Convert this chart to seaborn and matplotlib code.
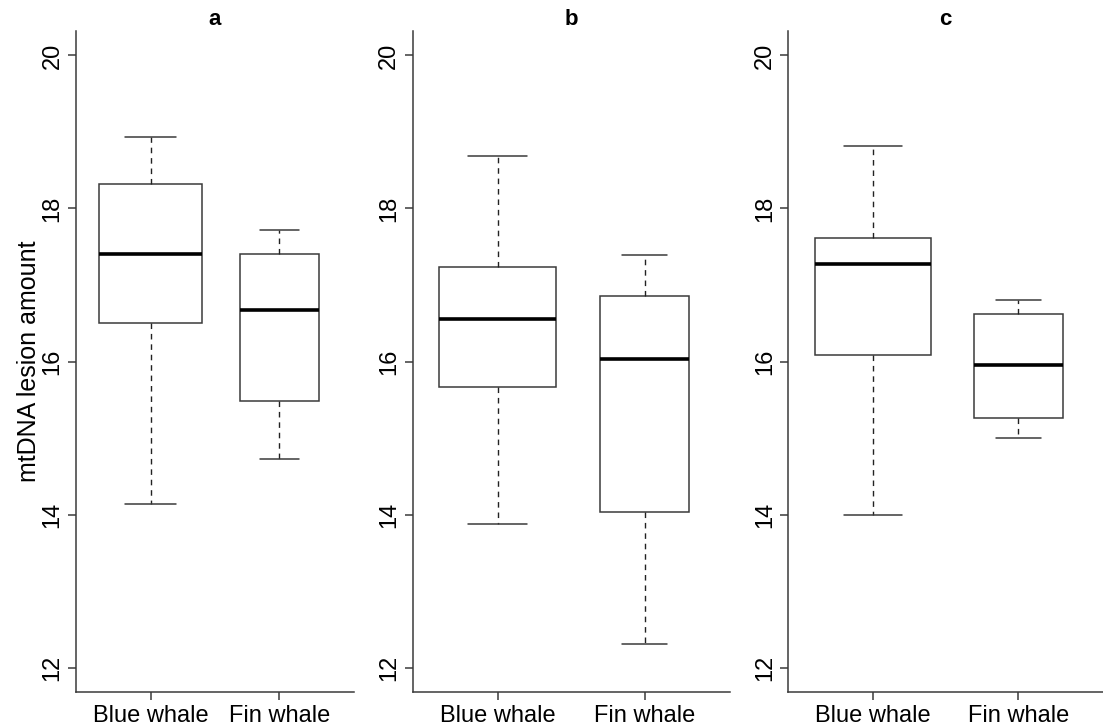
import numpy as np
import pandas as pd
import matplotlib
matplotlib.use("Agg")
import matplotlib.pyplot as plt
import seaborn as sns

# Species on the x axis
species = ["Blue whale", "Fin whale"]
panel_titles = ["a", "b", "c"]

# Five-number summaries (lower whisker, Q1, median, Q3, upper whisker)
a_blue = [14.14, 16.50, 17.41, 18.32, 18.94]
a_fin = [14.73, 15.48, 16.67, 17.41, 17.72]
b_blue = [13.88, 15.67, 16.56, 17.23, 18.69]
b_fin = [12.31, 14.03, 16.03, 16.85, 17.39]
c_blue = [14.00, 16.09, 17.27, 17.62, 18.82]
c_fin = [15.00, 15.26, 15.96, 16.62, 16.80]

# Relative box widths (proportional to sqrt of group size)
box_widths = {"Blue whale": 0.80, "Fin whale": 0.61}

y_ticks = [12, 14, 16, 18, 20]
y_label = "mtDNA lesion amount"

rows = []
for title, blue, fin in zip(panel_titles, [a_blue, b_blue, c_blue], [a_fin, b_fin, c_fin]):
    for sp, vals in zip(species, [blue, fin]):
        for v in vals:
            rows.append({"panel": title, "species": sp, "value": v})
df = pd.DataFrame(rows)

sns.set_theme(style="white")
plt.rcParams["font.family"] = ["Liberation Sans", "DejaVu Sans"]
plt.rcParams["text.color"] = "black"
plt.rcParams["axes.labelcolor"] = "black"
plt.rcParams["xtick.color"] = "black"
plt.rcParams["ytick.color"] = "black"

fig = plt.figure(figsize=(11.03, 7.26), dpi=100)
W, H = 1103.0, 726.0
# axes boxes in pixel coordinates: (left, right, top, bottom)
boxes = [(76, 354, 31, 692), (412.7, 729.6, 31, 692), (788.3, 1103, 31, 692)]

edge = "#3a3a3a"
for i, (title, (l, r, t, b)) in enumerate(zip(panel_titles, boxes)):
    ax = fig.add_axes([l / W, (H - b) / H, (r - l) / W, (b - t) / H])
    sub = df[df["panel"] == title]
    for sp in species:
        sns.boxplot(
            data=sub[sub["species"] == sp], x="species", y="value",
            order=species, width=box_widths[sp], whis=(0, 100),
            color="white", linecolor=edge, linewidth=1.1,
            showfliers=False, ax=ax,
            medianprops=dict(color="black", linewidth=2.6, solid_capstyle="butt"),
            whiskerprops=dict(color="#222222", linewidth=1.0, linestyle=(0, (4, 3.5))),
            capprops=dict(color=edge, linewidth=1.1),
            boxprops=dict(edgecolor=edge, facecolor="white", linewidth=1.1),
        )
    ax.set_xlim(-0.58, 1.58)
    ax.set_ylim(11.68, 20.32)
    ax.set_yticks(y_ticks)
    ax.set_yticklabels([str(v) for v in y_ticks], rotation=90, va="center")
    ax.set_xlabel("")
    ax.set_ylabel(y_label if i == 0 else "", fontsize=18, labelpad=0)
    ax.set_title(title, fontsize=16, fontweight="bold", pad=4, color="black")
    for s in ["top", "right"]:
        ax.spines[s].set_visible(False)
    for s in ["left", "bottom"]:
        ax.spines[s].set_color(edge)
        ax.spines[s].set_linewidth(1.1)
    ax.tick_params(axis="both", which="major", direction="out", length=6,
                   width=1.1, color=edge, labelcolor="black", labelsize=17,
                   pad=3, left=True, bottom=True)
    ax.tick_params(axis="y", pad=3)
    ax.grid(False)

fig.savefig("out.png", dpi=100, facecolor="white")
